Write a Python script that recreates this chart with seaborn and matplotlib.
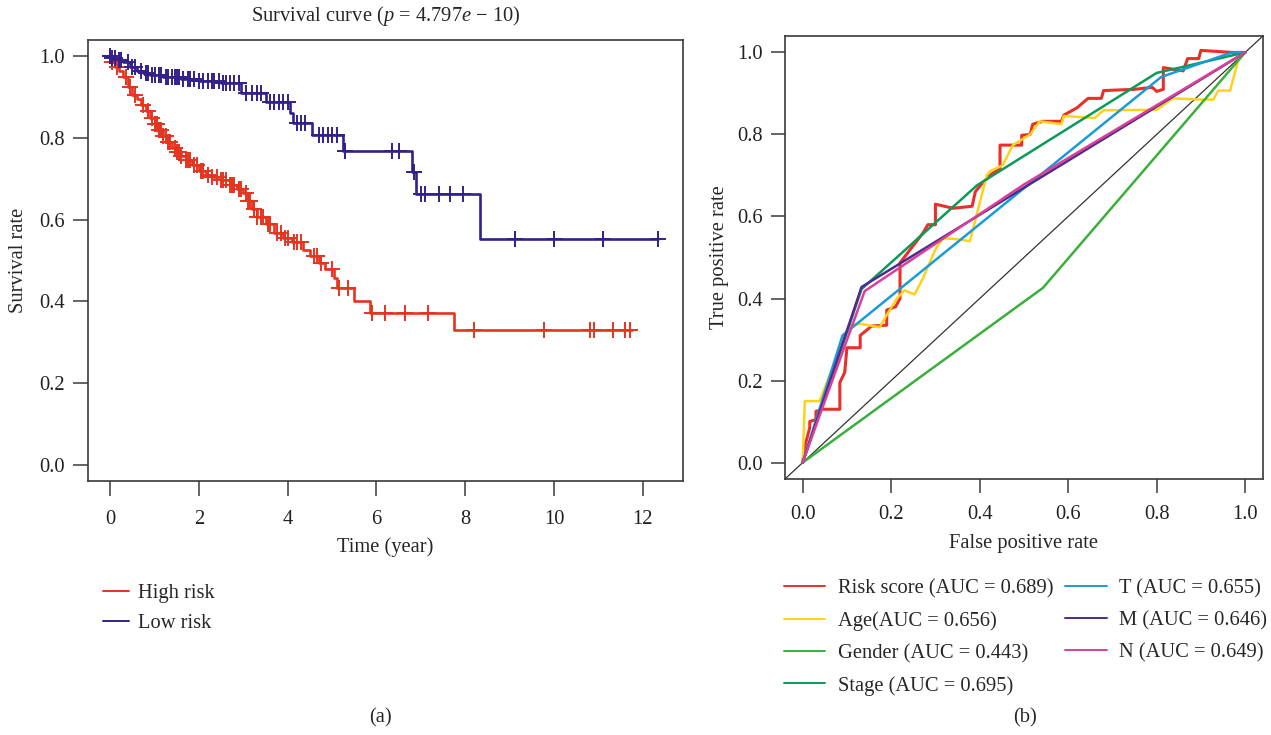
import numpy as np
import pandas as pd
import matplotlib
matplotlib.use("Agg")
import matplotlib.pyplot as plt
import seaborn as sns

# ---------------- data: Kaplan-Meier (a) ----------------
high_step_t = [0.02, 0.1, 0.2, 0.3, 0.4, 0.5, 0.6, 0.7, 0.8, 0.9, 1.0, 1.1, 1.2, 1.3,
               1.4, 1.5, 1.6, 1.7, 1.85, 2.0, 2.15, 2.3, 2.5, 2.7, 2.85, 3.0, 3.1, 3.2,
               3.3, 3.5, 3.7, 3.9, 4.1, 4.35, 4.5, 4.7, 4.85, 5.05, 5.12, 5.5, 5.85, 7.75]
high_step_s = [0.985, 0.975, 0.965, 0.95, 0.925, 0.905, 0.895, 0.88, 0.865, 0.85, 0.835,
               0.82, 0.805, 0.79, 0.775, 0.765, 0.755, 0.745, 0.735, 0.72, 0.71, 0.705,
               0.697, 0.685, 0.675, 0.665, 0.645, 0.625, 0.606, 0.59, 0.567, 0.555, 0.545,
               0.525, 0.51, 0.495, 0.48, 0.458, 0.433, 0.40, 0.371, 0.33]
high_end = 11.75
high_censor = [0.0, 0.05, 0.15, 0.35, 0.45, 0.55, 0.75, 0.85, 0.95, 1.0, 1.05, 1.1, 1.15,
               1.2, 1.25, 1.3, 1.35, 1.45, 1.5, 1.55, 1.6, 1.7, 1.75, 1.8, 1.9, 1.95, 2.05,
               2.1, 2.2, 2.3, 2.4, 2.5, 2.55, 2.6, 2.7, 2.75, 2.8, 2.9, 2.95, 3.05, 3.1,
               3.15, 3.25, 3.3, 3.4, 3.45, 3.55, 3.6, 3.75, 3.85, 3.95, 4.0, 4.15, 4.2, 4.3,
               4.6, 4.65, 4.75, 5.0, 5.15, 5.35, 5.9, 6.2, 6.65, 7.15, 8.2, 9.77, 10.8, 10.9,
               11.33, 11.6, 11.7]

low_step_t = [0.05, 0.15, 0.3, 0.45, 0.6, 0.75, 0.9, 1.2, 1.6, 2.0, 2.5, 2.95, 3.5, 4.05,
              4.12, 4.55, 5.25, 6.8, 6.9, 8.33]
low_step_s = [0.995, 0.99, 0.985, 0.975, 0.965, 0.96, 0.955, 0.95, 0.945, 0.94, 0.935,
              0.91, 0.887, 0.86, 0.836, 0.807, 0.768, 0.716, 0.662, 0.552]
low_end = 12.35
low_censor = [0.0, 0.05, 0.1, 0.2, 0.25, 0.4, 0.5, 0.55, 0.7, 0.8, 0.85, 0.95, 1.0, 1.1,
              1.15, 1.25, 1.3, 1.4, 1.45, 1.5, 1.55, 1.65, 1.75, 1.8, 1.9, 2.0, 2.1, 2.2,
              2.3, 2.35, 2.45, 2.55, 2.6, 2.7, 2.8, 2.9, 3.05, 3.2, 3.3, 3.4, 3.6, 3.7, 3.8,
              3.9, 4.0, 4.2, 4.3, 4.4, 4.7, 4.8, 4.9, 5.0, 5.1, 5.3, 6.35, 6.5, 6.85, 7.0,
              7.1, 7.4, 7.65, 7.95, 9.12, 10.0, 11.1, 12.35]

km_labels = ["High risk", "Low risk"]
x_ticks_a = [0, 2, 4, 6, 8, 10, 12]
y_ticks = [0.0, 0.2, 0.4, 0.6, 0.8, 1.0]

# ---------------- data: ROC (b) ----------------
risk_fpr = [0, 0.005, 0.016, 0.016, 0.03, 0.03, 0.045, 0.084, 0.084, 0.095, 0.1, 0.13, 0.13,
            0.156, 0.19, 0.19, 0.21, 0.22, 0.22, 0.242, 0.272, 0.283, 0.30, 0.30, 0.34,
            0.383, 0.39, 0.405, 0.423, 0.446, 0.446, 0.495, 0.495, 0.514, 0.52, 0.543,
            0.585, 0.59, 0.62, 0.645, 0.675, 0.68, 0.75, 0.79, 0.80, 0.815, 0.815, 0.86,
            0.87, 0.895, 0.90, 0.97, 1.0]
risk_tpr = [0, 0.04, 0.085, 0.10, 0.105, 0.125, 0.13, 0.13, 0.195, 0.22, 0.28, 0.28, 0.31,
            0.333, 0.335, 0.372, 0.38, 0.40, 0.487, 0.518, 0.56, 0.58, 0.58, 0.63, 0.62,
            0.625, 0.66, 0.68, 0.70, 0.718, 0.774, 0.774, 0.798, 0.80, 0.825, 0.832,
            0.832, 0.847, 0.865, 0.888, 0.888, 0.907, 0.91, 0.915, 0.905, 0.91, 0.963,
            0.955, 0.985, 0.985, 1.005, 1.0, 1.0]

age_fpr = [0, 0.005, 0.01, 0.038, 0.106, 0.133, 0.174, 0.19, 0.213, 0.23, 0.253, 0.272,
           0.30, 0.317, 0.345, 0.378, 0.416, 0.423, 0.452, 0.475, 0.514, 0.536, 0.585,
           0.59, 0.66, 0.68, 0.80, 0.837, 0.90, 0.928, 0.939, 0.966, 0.984, 1.0]
age_tpr = [0, 0.15, 0.15, 0.15, 0.336, 0.338, 0.33, 0.36, 0.40, 0.42, 0.41, 0.45, 0.52,
           0.547, 0.545, 0.54, 0.70, 0.71, 0.725, 0.774, 0.80, 0.832, 0.825, 0.845, 0.84,
           0.859, 0.86, 0.888, 0.885, 0.885, 0.907, 0.907, 0.98, 1.0]

gender_fpr = [0, 0.543, 1.0]
gender_tpr = [0, 0.426, 1.0]

stage_fpr = [0, 0.133, 0.394, 0.80, 1.0]
stage_tpr = [0, 0.423, 0.676, 0.95, 1.0]

t_fpr = [0, 0.09, 0.81, 0.97, 1.0]
t_tpr = [0, 0.31, 0.94, 1.0, 1.0]

m_fpr = [0, 0.133, 1.0]
m_tpr = [0, 0.428, 1.0]

n_fpr = [0, 0.14, 0.5, 1.0]
n_tpr = [0, 0.418, 0.678, 1.0]

roc_labels = ["Risk score (AUC = 0.689)", "Age(AUC = 0.656)", "Gender (AUC = 0.443)",
              "Stage (AUC = 0.695)", "T (AUC = 0.655)", "M (AUC = 0.646)", "N (AUC = 0.649)"]
x_ticks_b = [0.0, 0.2, 0.4, 0.6, 0.8, 1.0]

# ---------------- style ----------------
sns.set_theme(style="white")
plt.rcParams["font.family"] = ["Liberation Serif", "DejaVu Serif"]
plt.rcParams["mathtext.fontset"] = "custom"
plt.rcParams["mathtext.rm"] = "Liberation Serif"
plt.rcParams["mathtext.it"] = "Liberation Serif:italic"

FS = 14.8
C_HIGH = "#E5341F"
C_LOW = "#33208A"
roc_colors = ["#E8302A", "#FFD21A", "#3BAF3B", "#0B9A57", "#1A9BD7", "#4B2C8E", "#DB3F98"]
FRAME = "#3a3a3a"

fig = plt.figure(figsize=(12.71, 7.35), dpi=100)
ax1 = fig.add_axes([0.0692, 0.3456, 0.468, 0.600])
ax2 = fig.add_axes([0.6176, 0.3483, 0.376, 0.6027])


def style_axes(ax, tlen, xpad):
    for sp in ax.spines.values():
        sp.set_color(FRAME)
        sp.set_linewidth(1.2)
        sp.set_visible(True)
    ax.tick_params(direction="out", length=tlen, width=1.1, color=FRAME, pad=6,
                   labelsize=FS, labelcolor="#222222", bottom=True, left=True)
    ax.tick_params(axis="x", pad=xpad)


def step_lookup(times, surv, q):
    idx = np.searchsorted(np.asarray(times), np.asarray(q), side="right") - 1
    s = np.asarray(surv)
    return np.where(idx >= 0, s[np.clip(idx, 0, None)], 1.0)


# ---------------- panel (a) ----------------
groups = [(high_step_t, high_step_s, high_end, high_censor, C_HIGH, km_labels[0]),
          (low_step_t, low_step_s, low_end, low_censor, C_LOW, km_labels[1])]
for st, ss, end, cens, col, lab in groups:
    df = pd.DataFrame({"t": [0.0] + st + [end], "s": [1.0] + ss + [ss[-1]]})
    sns.lineplot(data=df, x="t", y="s", ax=ax1, color=col, lw=1.9, estimator=None,
                 sort=False, drawstyle="steps-post", label=lab)
    cdf = pd.DataFrame({"t": cens, "s": step_lookup(st, ss, cens)})
    sns.scatterplot(data=cdf, x="t", y="s", ax=ax1, color=col, marker="+", s=120,
                    linewidth=1.4, zorder=3, legend=False)

ax1.set_xlim(-0.5, 12.9)
ax1.set_ylim(-0.04, 1.04)
ax1.set_xticks(x_ticks_a)
ax1.set_xticklabels([str(v) for v in x_ticks_a])
ax1.set_yticks(y_ticks)
ax1.set_yticklabels([f"{v:.1f}" for v in y_ticks])
style_axes(ax1, 10.5, 10.5)
ax1.set_xlabel("Time (year)", fontsize=FS)
ax1.set_ylabel("Survival rate", fontsize=FS)
ax1.xaxis.set_label_coords(0.5, -0.128)
ax1.yaxis.set_label_coords(-0.10, 0.5)
ax1.set_title("Survival curve ($p$ = 4.797$e$ − 10)", fontsize=FS, pad=13.5)

leg1 = ax1.legend(loc="upper left", bbox_to_anchor=(0.081, 0.2054),
                  bbox_transform=fig.transFigure, frameon=False, fontsize=FS,
                  borderpad=0, borderaxespad=0, handlelength=1.25, handletextpad=0.45,
                  labelspacing=0.5)
for ln in leg1.get_lines():
    ln.set_linewidth(1.4)

# ---------------- panel (b) ----------------
ax2.axline((0, 0), (1, 1), color="#333333", lw=0.9, zorder=1)
roc_sets = [(risk_fpr, risk_tpr), (age_fpr, age_tpr), (gender_fpr, gender_tpr),
            (stage_fpr, stage_tpr), (t_fpr, t_tpr), (m_fpr, m_tpr), (n_fpr, n_tpr)]
roc_lw = [2.2, 1.8, 1.8, 1.8, 1.8, 1.8, 1.8]
for (fx, ty), col, lab, lw in zip(roc_sets, roc_colors, roc_labels, roc_lw):
    df = pd.DataFrame({"fpr": fx, "tpr": ty})
    sns.lineplot(data=df, x="fpr", y="tpr", ax=ax2, color=col, lw=lw, estimator=None,
                 sort=False, label=lab)

ax2.set_xlim(-0.04, 1.04)
ax2.set_ylim(-0.04, 1.04)
ax2.set_xticks(x_ticks_b)
ax2.set_xticklabels([f"{v:.1f}" for v in x_ticks_b])
ax2.set_yticks(y_ticks)
ax2.set_yticklabels([f"{v:.1f}" for v in y_ticks])
style_axes(ax2, 10, 9)
ax2.set_xlabel("False positive rate", fontsize=FS)
ax2.set_ylabel("True positive rate", fontsize=FS)
ax2.xaxis.set_label_coords(0.5, -0.124)
ax2.yaxis.set_label_coords(-0.118, 0.5)

leg2 = ax2.legend(loc="upper left", bbox_to_anchor=(0.617, 0.2122),
                  bbox_transform=fig.transFigure, frameon=False, fontsize=FS, ncol=2,
                  borderpad=0, borderaxespad=0, handlelength=2.0, handletextpad=0.6,
                  labelspacing=0.62, columnspacing=0.6)
for ln in leg2.get_lines():
    ln.set_linewidth(1.4)

fig.text(380 / 1271, 1 - 718 / 735, "(a)", ha="center", va="center", fontsize=FS)
fig.text(1025 / 1271, 1 - 718 / 735, "(b)", ha="center", va="center", fontsize=FS)

fig.savefig("out.png", dpi=100, facecolor="white")
